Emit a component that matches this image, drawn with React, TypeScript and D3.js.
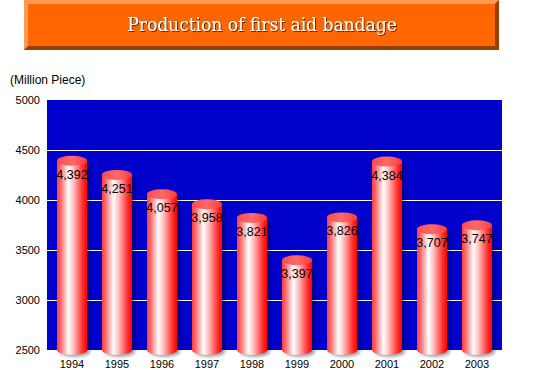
import * as d3 from "d3";

const years = ["1994", "1995", "1996", "1997", "1998", "1999", "2000", "2001", "2002", "2003"];
const production = [4392, 4251, 4057, 3958, 3821, 3397, 3826, 4384, 3707, 3747];
const yTicks = [2500, 3000, 3500, 4000, 4500, 5000];

const WIDTH = 550;
const HEIGHT = 370;
const PLOT = { left: 47, right: 502, top: 100, bottom: 350 };
const BAR_W = 30;
const RY = 5;

export default function App() {
  const xScale = d3
    .scalePoint<string>()
    .domain(years)
    .range([PLOT.left, PLOT.right])
    .padding(0.5556);

  const yScale = d3.scaleLinear().domain([2500, 5000]).range([PLOT.bottom, PLOT.top]);

  const fmt = d3.format(",");

  const bars = production.map((v, i) => {
    const cx = xScale(years[i]) ?? 0;
    const top = yScale(v);
    const base = yScale(2500);
    const x0 = cx - BAR_W / 2;
    const body = `M${x0},${top} L${x0},${base} A${BAR_W / 2},${RY} 0 0 0 ${x0 + BAR_W},${base} L${x0 + BAR_W},${top} Z`;
    return (
      <g key={years[i]}>
        <path d={body} fill="#000" opacity={0.35} transform="translate(3,2)" filter="url(#blur)" />
        <path d={body} fill="url(#cyl)" />
        <ellipse cx={cx} cy={top} rx={BAR_W / 2} ry={RY} fill="url(#capGrad)" />
        <text
          x={cx}
          y={top + 14}
          textAnchor="middle"
          dominantBaseline="central"
          fontSize={12.5}
          fill="#000"
        >
          {fmt(v)}
        </text>
      </g>
    );
  });

  return (
    <svg
      width={WIDTH}
      height={HEIGHT}
      style={{ position: "absolute", left: 0, top: 0, fontFamily: "'Liberation Sans', Arial, sans-serif" }}
    >
      <defs>
        <linearGradient id="cyl" x1="0" x2="1" y1="0" y2="0">
          <stop offset="0%" stopColor="#ff3a3a" />
          <stop offset="15%" stopColor="#ff7a7a" />
          <stop offset="38%" stopColor="#ffffff" />
          <stop offset="55%" stopColor="#ffc0c0" />
          <stop offset="85%" stopColor="#ff3030" />
          <stop offset="100%" stopColor="#ff0000" />
        </linearGradient>
        <linearGradient id="capGrad" x1="0" x2="1" y1="0" y2="0">
          <stop offset="0%" stopColor="#ff4a4a" />
          <stop offset="50%" stopColor="#ff6a6a" />
          <stop offset="100%" stopColor="#ff3a3a" />
        </linearGradient>
        <filter id="blur" x="-20%" y="-20%" width="140%" height="140%">
          <feGaussianBlur stdDeviation="1.5" />
        </filter>
        <filter id="titleShadow">
          <feDropShadow dx="1" dy="1" stdDeviation="0.3" floodColor="#552200" floodOpacity="0.9" />
        </filter>
      </defs>

      {/* title banner */}
      <rect x={24} y={0} width={475} height={50} fill="#ff6600" />
      <polygon points="24,0 499,0 495,4 28,4" fill="#ff9955" />
      <polygon points="24,0 28,4 28,46 24,50" fill="#ff9955" />
      <polygon points="24,50 28,46 495,46 499,50" fill="#993d00" />
      <polygon points="499,0 499,50 495,46 495,4" fill="#993d00" />
      <text
        x={262}
        y={24}
        textAnchor="middle"
        dominantBaseline="central"
        fontSize={19}
        fontFamily="'DejaVu Serif Condensed', 'DejaVu Serif', serif"
        fontStretch="condensed"
        fill="#fff"
        filter="url(#titleShadow)"
      >
        Production of first aid bandage
      </text>

      <text x={10} y={80} dominantBaseline="central" fontSize={12} fill="#000">
        (Million Piece)
      </text>

      {/* plot background */}
      <rect
        x={PLOT.left}
        y={PLOT.top}
        width={PLOT.right - PLOT.left}
        height={PLOT.bottom - PLOT.top}
        fill="#0000cc"
      />
      {yTicks
        .filter((t) => t > 2500 && t < 5000)
        .map((t) => (
          <line
            key={t}
            x1={PLOT.left}
            x2={PLOT.right}
            y1={Math.round(yScale(t)) + 0.5}
            y2={Math.round(yScale(t)) + 0.5}
            stroke="#fff"
            strokeWidth={1}
          />
        ))}
      {yTicks.map((t) => (
        <text key={t} x={40} y={yScale(t)} textAnchor="end" dominantBaseline="central" fontSize={11} fill="#000">
          {t}
        </text>
      ))}

      {bars}

      {years.map((yr) => (
        <text key={yr} x={xScale(yr)} y={364} textAnchor="middle" dominantBaseline="central" fontSize={11} fill="#000">
          {yr}
        </text>
      ))}
    </svg>
  );
}
